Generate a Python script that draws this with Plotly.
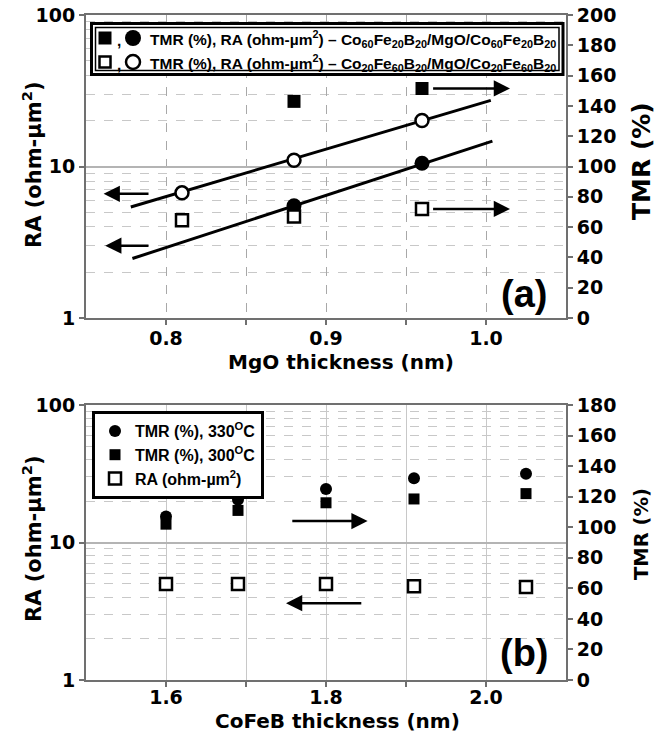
import math
import plotly.graph_objects as go

# ---------------- data ----------------
# Panel (a): MgO thickness series
mgo_x_6020 = [0.88, 0.96]                 # Co60Fe20B20 electrodes
tmr_6020 = [143, 151.5]                   # TMR (%) filled squares
ra_6020 = [5.5, 10.5]                     # RA filled circles

mgo_x_2060 = [0.81, 0.88, 0.96]           # Co20Fe60B20 electrodes
tmr_2060 = [64.5, 67, 72]                 # TMR (%) open squares
ra_2060 = [6.7, 11.0, 20.1]               # RA open circles

fit_x_2060 = [0.778, 1.003]               # fit line through open circles
fit_ra_2060 = [5.4, 27.3]
fit_x_6020 = [0.779, 1.004]               # fit line through filled circles
fit_ra_6020 = [2.47, 14.7]

# Panel (b): CoFeB thickness series
cofeb_x = [1.60, 1.69, 1.80, 1.91, 2.05]
tmr_330 = [107, 118, 125, 132, 135]
tmr_300 = [102, 111, 116, 118.5, 122]
ra_b = [5.0, 5.0, 5.0, 4.8, 4.75]

ra_ticks = [1, 10, 100]
ra_minor = [2, 3, 4, 5, 6, 7, 8, 9, 20, 30, 40, 50, 60, 70, 80, 90]
xa_ticks = [0.8, 0.85, 0.9, 0.95, 1.0]
xa_text = ["0.8", " ", "0.9", " ", "1.0"]
xb_ticks = [1.6, 1.7, 1.8, 1.9, 2.0]
xb_text = ["1.6", " ", "1.8", " ", "2.0"]

# ---------------- geometry helpers ----------------
W, H = 665, 740
def PX(x):
    return x / W
def PY(y):
    return 1 - y / H

XDOM = [PX(86), PX(566)]
YDOM_A = [PY(318), PY(15)]
YDOM_B = [PY(680), PY(405)]

TICKF = dict(family="DejaVu Sans", size=19, color="black", weight="bold")
AXC = "#707070"

fig = go.Figure()

# ---- panel (a) traces ----
fig.add_trace(go.Scatter(x=fit_x_2060, y=fit_ra_2060, mode="lines",
                         line=dict(color="black", width=3), xaxis="x", yaxis="y", showlegend=False))
fig.add_trace(go.Scatter(x=fit_x_6020, y=fit_ra_6020, mode="lines",
                         line=dict(color="black", width=3), xaxis="x", yaxis="y", showlegend=False))
fig.add_trace(go.Scatter(x=mgo_x_6020, y=ra_6020, mode="markers",
                         marker=dict(symbol="circle", size=15, color="black"),
                         xaxis="x", yaxis="y", showlegend=False))
fig.add_trace(go.Scatter(x=mgo_x_2060, y=ra_2060, mode="markers",
                         marker=dict(symbol="circle", size=13, color="white",
                                     line=dict(color="black", width=2.5)),
                         xaxis="x", yaxis="y", showlegend=False))
fig.add_trace(go.Scatter(x=mgo_x_6020, y=tmr_6020, mode="markers",
                         marker=dict(symbol="square", size=13, color="black"),
                         xaxis="x", yaxis="y2", showlegend=False))
fig.add_trace(go.Scatter(x=mgo_x_2060, y=tmr_2060, mode="markers",
                         marker=dict(symbol="square", size=12, color="white",
                                     line=dict(color="black", width=2.5)),
                         xaxis="x", yaxis="y2", showlegend=False))

# ---- panel (b) traces ----
fig.add_trace(go.Scatter(x=cofeb_x, y=tmr_330, mode="markers", name="TMR (%), 330<sup>O</sup>C",
                         marker=dict(symbol="circle", size=12, color="black"),
                         xaxis="x2", yaxis="y4"))
fig.add_trace(go.Scatter(x=cofeb_x, y=tmr_300, mode="markers", name="TMR (%), 300<sup>O</sup>C",
                         marker=dict(symbol="square", size=11, color="black"),
                         xaxis="x2", yaxis="y4"))
fig.add_trace(go.Scatter(x=cofeb_x, y=ra_b, mode="markers", name="RA (ohm-µm<sup>2</sup>)",
                         marker=dict(symbol="square", size=12, color="white",
                                     line=dict(color="black", width=2.5)),
                         xaxis="x2", yaxis="y3"))

def xax(rng, tv, tt, anchor, dash, gridc, standoff):
    return dict(domain=XDOM, anchor=anchor, range=rng, tickvals=tv, ticktext=tt,
                showgrid=True, griddash=dash, gridcolor=gridc, gridwidth=1,
                showline=True, linecolor=AXC, linewidth=2, mirror=True,
                ticks="outside", ticklen=5, tickcolor=AXC, tickwidth=1.5,
                ticklabelstandoff=standoff,
                tickfont=TICKF, zeroline=False, automargin=False)

def ylog(dom, anchor):
    return dict(type="log", domain=dom, anchor=anchor, range=[0, 2], tickvals=ra_ticks,
                ticktext=[str(v) for v in ra_ticks],
                showgrid=True, gridcolor="#b4b4b4", gridwidth=1.5,
                minor=dict(tickvals=ra_minor, showgrid=True, griddash="dash",
                           gridcolor="#c8c8c8", gridwidth=1, ticks=""),
                showline=True, linecolor=AXC, linewidth=2,
                ticks="outside", ticklen=5, tickcolor=AXC, tickwidth=1.5,
                tickfont=TICKF, zeroline=False, automargin=False)

def yright(over, anchor, top):
    return dict(overlaying=over, side="right", anchor=anchor, range=[0, top], dtick=20,
                showgrid=False, showline=True, linecolor=AXC, linewidth=2,
                ticks="outside", ticklen=5, tickcolor=AXC, tickwidth=1.5,
                tickfont=TICKF, zeroline=False, automargin=False)

TITLEF = dict(family="DejaVu Sans", size=20, color="black", weight="bold")
LEGF = dict(family="Liberation Sans", size=15.5, color="black", weight="bold")

annotations = []
def ann(text, x, y, font, **kw):
    d = dict(text=text, x=PX(x), y=PY(y), xref="paper", yref="paper",
             showarrow=False, font=font, xanchor="center", yanchor="middle")
    d.update(kw)
    annotations.append(d)

# axis titles
ann("MgO thickness (nm)", 341, 362, TITLEF)
ann("CoFeB thickness (nm)", 337, 721, TITLEF)
ann("RA (ohm-µm<sup>2</sup>)", 32, 165, dict(TITLEF, size=21), textangle=-90)
ann("RA (ohm-µm<sup>2</sup>)", 32, 539, dict(TITLEF, size=21), textangle=-90)
ann("TMR (%)", 641, 161, dict(TITLEF, size=25), textangle=-90)
ann("TMR (%)", 641, 534, dict(TITLEF, size=19.5), textangle=-90)

# panel labels
PANF = dict(family="Liberation Sans", size=38, color="black", weight="bold")
ann("(a)", 524, 294, PANF)
ann("(b)", 524, 653, PANF)

# legend (a) text
ann(",", 119, 40, LEGF)
ann(",", 119, 64, LEGF)
ann("TMR (%), RA (ohm-µm<sup>2</sup>) – Co<sub>60</sub>Fe<sub>20</sub>B<sub>20</sub>/MgO/Co<sub>60</sub>Fe<sub>20</sub>B<sub>20</sub>",
    148, 39, LEGF, xanchor="left")
ann("TMR (%), RA (ohm-µm<sup>2</sup>) – Co<sub>20</sub>Fe<sub>60</sub>B<sub>20</sub>/MgO/Co<sub>20</sub>Fe<sub>60</sub>B<sub>20</sub>",
    148, 63, LEGF, xanchor="left")

# arrows (data coordinates)
def arrow(xref, yref, x_tail, y_tail, x_head, y_head):
    annotations.append(dict(text="", xref=xref, yref=yref, axref=xref, ayref=yref,
                            x=x_head, y=y_head, ax=x_tail, ay=y_tail, showarrow=True,
                            arrowhead=2, arrowsize=1.3, arrowwidth=2.5, arrowcolor="black"))

arrow("x", "y2", 0.966, 151.5, 1.015, 151.5)
arrow("x", "y2", 0.966, 72, 1.015, 72)
arrow("x", "y", 0.790, math.log10(6.6), 0.761, math.log10(6.6))
arrow("x", "y", 0.790, math.log10(3.0), 0.762, math.log10(3.0))
arrow("x2", "y4", 1.756, 104, 1.852, 104)
arrow("x2", "y3", 1.846, math.log10(3.62), 1.750, math.log10(3.62))

# legend (a) box and symbols
shapes = []
def rect(x0, y0, x1, y1, lw, fill=None, color="black"):
    shapes.append(dict(type="rect", xref="paper", yref="paper",
                       x0=PX(x0), x1=PX(x1), y0=PY(y1), y1=PY(y0),
                       line=dict(color=color, width=lw),
                       fillcolor=fill if fill else "rgba(0,0,0,0)", layer="above"))
def circ(cx, cy, r, lw, fill):
    shapes.append(dict(type="circle", xref="paper", yref="paper",
                       x0=PX(cx - r), x1=PX(cx + r), y0=PY(cy + r), y1=PY(cy - r),
                       line=dict(color="black", width=lw), fillcolor=fill, layer="above"))

rect(91.5, 23.5, 563, 74.5, 3, fill="white")
rect(95.5, 27.5, 559, 70.5, 1.5)
rect(98.5, 31.5, 111.5, 44.5, 0, fill="black")
circ(133, 38, 8, 0, "black")
rect(99.5, 56.5, 110.5, 67.5, 2.5, fill="white")
circ(133, 62, 7, 2.5, "white")

fig.update_layout(
    width=W, height=H,
    margin=dict(l=0, r=0, t=0, b=0),
    paper_bgcolor="white", plot_bgcolor="white",
    xaxis=xax([0.75, 1.05], xa_ticks, xa_text, "y", "dash", "#a8a8a8", -3),
    yaxis=ylog(YDOM_A, "x"),
    yaxis2=yright("y", "x", 200),
    xaxis2=xax([1.5, 2.1], xb_ticks, xb_text, "y3", "solid", "#c8c8c8", -6),
    yaxis3=ylog(YDOM_B, "x2"),
    yaxis4=yright("y3", "x2", 180),
    showlegend=True,
    legend=dict(x=PX(92), y=PY(411), xanchor="left", yanchor="top",
                bordercolor="black", borderwidth=3, bgcolor="white",
                font=dict(family="Liberation Sans", size=16, color="black", weight="bold"),
                tracegroupgap=0, itemwidth=30),
    annotations=annotations,
    shapes=shapes,
)

fig.write_html("out.html")
